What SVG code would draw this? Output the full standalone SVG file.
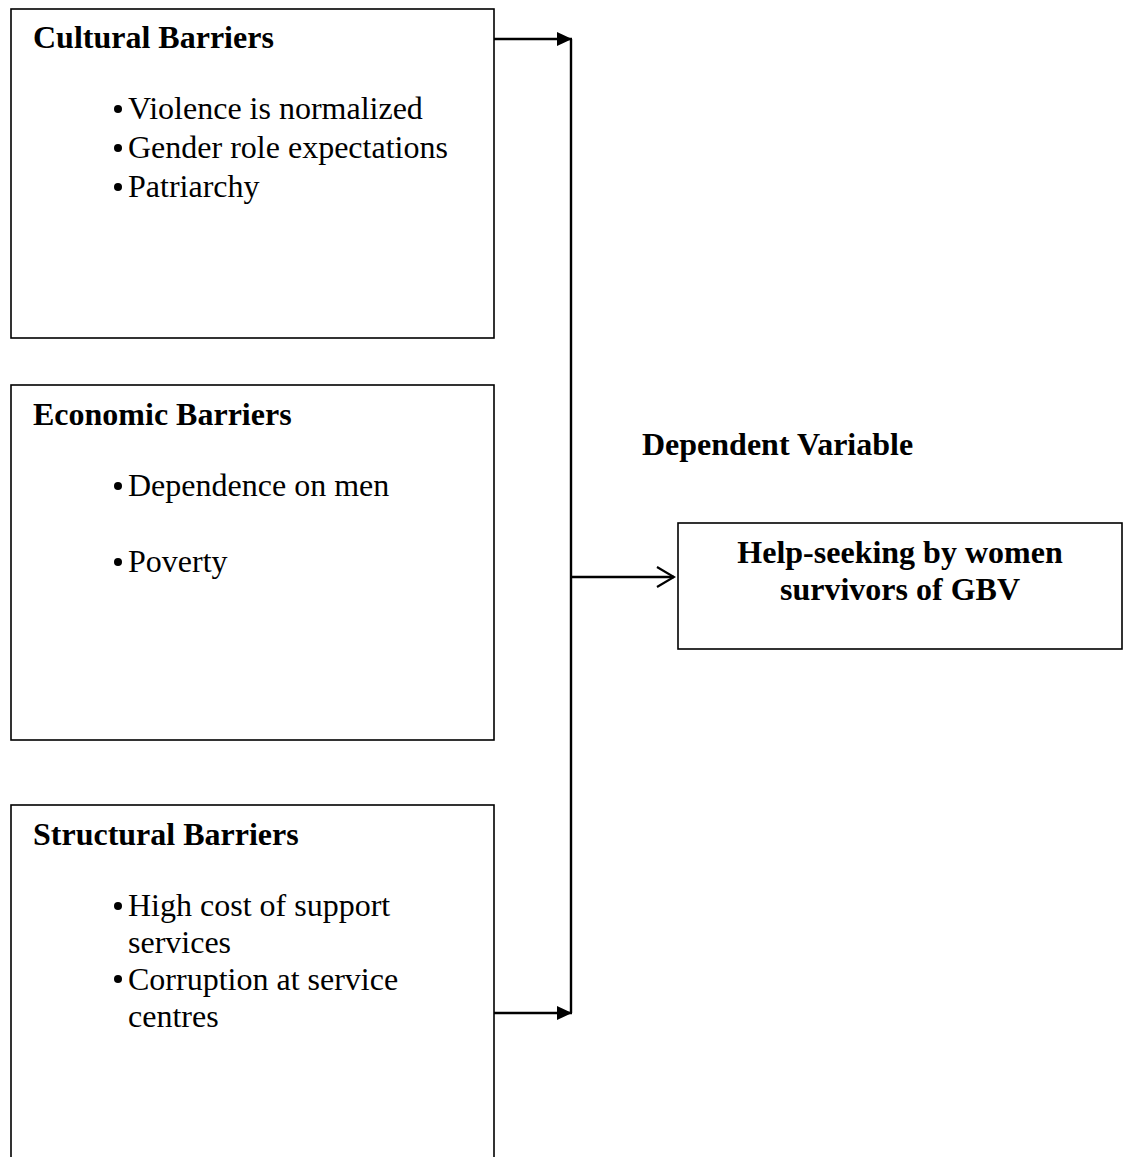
<svg xmlns="http://www.w3.org/2000/svg" width="1124" height="1157" viewBox="0 0 1124 1157">
<defs>
<style>
.box{fill:#fff;stroke:#000;stroke-width:1.6}
.h{font-family:"Liberation Serif","Times New Roman",serif;font-weight:bold;font-size:32px;fill:#000}
.t{font-family:"Liberation Serif","Times New Roman",serif;font-size:32px;fill:#000}
.ln{fill:none;stroke:#000;stroke-width:2.4}
</style>
<marker id="fill" markerWidth="16" markerHeight="14" refX="15" refY="7" orient="auto" markerUnits="userSpaceOnUse">
<path d="M0,0 L15,7 L0,14 Z" fill="#000"/>
</marker>
<marker id="open" markerWidth="20" markerHeight="24" refX="18" refY="11" orient="auto" markerUnits="userSpaceOnUse">
<path d="M1,1 L18,11 L1,21" fill="none" stroke="#000" stroke-width="2.2"/>
</marker>
</defs>
<rect width="1124" height="1157" fill="#fff"/>
<g id="cultural">
<rect class="box" x="11" y="9" width="483" height="329"/>
<text class="h" x="33" y="48">Cultural Barriers</text>
<circle cx="118" cy="109" r="4"/>
<text class="t" x="128" y="119">Violence is normalized</text>
<circle cx="118" cy="148" r="4"/>
<text class="t" x="128" y="158">Gender role expectations</text>
<circle cx="118" cy="187" r="4"/>
<text class="t" x="128" y="197">Patriarchy</text>
</g>
<g id="economic">
<rect class="box" x="11" y="385" width="483" height="355"/>
<text class="h" x="33" y="425">Economic Barriers</text>
<circle cx="118" cy="486" r="4"/>
<text class="t" x="128" y="496">Dependence on men</text>
<circle cx="118" cy="562" r="4"/>
<text class="t" x="128" y="572">Poverty</text>
</g>
<g id="structural">
<rect class="box" x="11" y="805" width="483" height="370"/>
<text class="h" x="33" y="845">Structural Barriers</text>
<circle cx="118" cy="906" r="4"/>
<text class="t" x="128" y="916">High cost of support</text>
<text class="t" x="128" y="953">services</text>
<circle cx="118" cy="979" r="4"/>
<text class="t" x="128" y="990">Corruption at service</text>
<text class="t" x="128" y="1027">centres</text>
</g>
<g id="dependent-label">
<text class="h" x="642" y="455">Dependent Variable</text>
</g>
<g id="help-seeking">
<rect class="box" x="678" y="523" width="444" height="126"/>
<text class="h" x="900" y="563" text-anchor="middle">Help-seeking by women</text>
<text class="h" x="900" y="600" text-anchor="middle">survivors of GBV</text>
</g>
<g id="connectors">
<line class="ln" x1="571" y1="39" x2="571" y2="1013"/>
<line class="ln" x1="494" y1="39" x2="572" y2="39" marker-end="url(#fill)"/>
<line class="ln" x1="494" y1="1013" x2="572" y2="1013" marker-end="url(#fill)"/>
<line class="ln" x1="571" y1="577" x2="674" y2="577" marker-end="url(#open)"/>
</g>
</svg>
